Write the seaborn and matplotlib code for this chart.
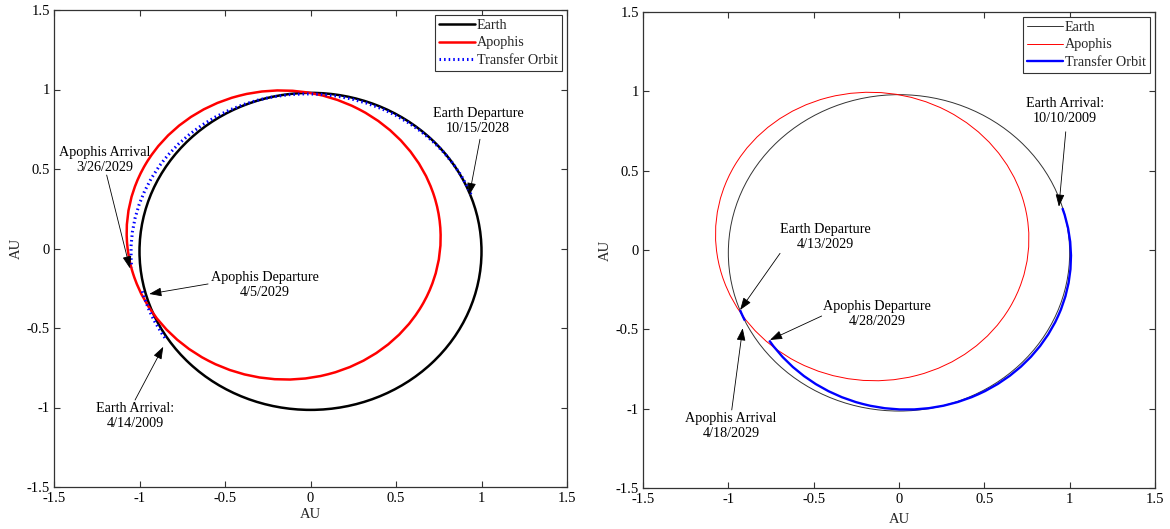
import matplotlib
matplotlib.use("Agg")
import matplotlib.pyplot as plt
from matplotlib.patches import Ellipse, Arc
from matplotlib.lines import Line2D
import seaborn as sns

# ---------------- data ----------------
ticks = [-1.5, -1.0, -0.5, 0.0, 0.5, 1.0, 1.5]
tick_labels = ["-1.5", "-1", "-0.5", "0", "0.5", "1", "1.5"]

series_names = ["Earth", "Apophis", "Transfer Orbit"]

# orbit ellipses: center x, center y, width, height, rotation (deg)
earth_orbit = [0.0, -0.018, 2.0, 1.994, 0.0]
apophis_orbit = [-0.157, 0.085, 1.844, 1.81, 151.0]

# transfer arcs: center x, center y, width, height, theta1, theta2
left_transfer_arcs = [
    [-0.02, -0.025, 2.06, 1.995, 20.9, 185.3],
    [0.0, 0.0, 2.04, 2.04, 195.3, 213.9],
]
right_transfer_arcs = [
    [0.0, -0.015, 2.0, 2.0, 201.3, 205.5],
    [0.045, -0.043, 1.925, 1.925, 213.2, 378.6],
]

# annotations: label, text position, arrow start, arrow tip
left_labels = ["Apophis Arrival\n3/26/2029", "Earth Departure\n10/15/2028",
               "Apophis Departure\n4/5/2029", "Earth Arrival:\n4/14/2009"]
left_text_xy = [(-1.202, 0.557), (0.980, 0.802), (-0.266, -0.230), (-1.026, -1.053)]
left_arrow_from = [(-1.192, 0.462), (0.991, 0.687), (-0.599, -0.223), (-1.026, -0.953)]
left_arrow_to = [(-1.056, -0.125), (0.929, 0.336), (-0.943, -0.286), (-0.861, -0.618)]

right_labels = ["Earth Arrival:\n10/10/2009", "Earth Departure\n4/13/2029",
                "Apophis Departure\n4/28/2029", "Apophis Arrival\n4/18/2029"]
right_text_xy = [(0.972, 0.876), (-0.434, 0.082), (-0.129, -0.403), (-0.984, -1.109)]
right_arrow_from = [(0.977, 0.745), (-0.697, -0.021), (-0.453, -0.416), (-0.980, -1.008)]
right_arrow_to = [(0.937, 0.273), (-0.931, -0.378), (-0.756, -0.567), (-0.916, -0.493)]

# ---------------- style ----------------
sns.set_theme(style="ticks", rc={
    "xtick.direction": "in", "ytick.direction": "in",
    "xtick.top": True, "ytick.right": True,
    "xtick.major.size": 4, "ytick.major.size": 4,
    "xtick.major.width": 0.8, "ytick.major.width": 0.8,
    "axes.edgecolor": "#333333", "axes.linewidth": 0.9,
    "xtick.color": "#333333", "ytick.color": "#333333",
    "xtick.labelcolor": "black", "ytick.labelcolor": "black",
})
plt.rcParams["font.family"] = ["Liberation Serif", "DejaVu Serif"]
plt.rcParams["font.size"] = 10

fig = plt.figure(figsize=(11.7, 5.29), dpi=100)
W, H = 1170, 529
ax1 = fig.add_axes([54 / W, 1 - 487 / H, (567 - 54) / W, (487 - 10) / H])
ax2 = fig.add_axes([643 / W, 1 - 488 / H, (1155 - 643) / W, (488 - 12) / H])

styles = {
    ax1: dict(earth=dict(color="black", lw=1.8),
              apophis=dict(color="#ff0000", lw=1.8),
              transfer=dict(color="#0000ff", lw=2.2, linestyle=(0, (0.5, 1.0)))),
    ax2: dict(earth=dict(color="#333333", lw=0.7),
              apophis=dict(color="#ff0000", lw=0.7),
              transfer=dict(color="#0000ff", lw=1.7, linestyle="-")),
}

panels = [
    (ax1, left_transfer_arcs, left_labels, left_text_xy, left_arrow_from, left_arrow_to, 2),
    (ax2, right_transfer_arcs, right_labels, right_text_xy, right_arrow_from, right_arrow_to, 5),
]

for ax, arcs, labels, txy, afrom, ato, xlpad in panels:
    st = styles[ax]
    ex, ey, ew, eh, ea = earth_orbit
    ax.add_patch(Ellipse((ex, ey), ew, eh, angle=ea, fill=False, **st["earth"], zorder=2))
    px, py, pw, ph, pa = apophis_orbit
    ax.add_patch(Ellipse((px, py), pw, ph, angle=pa, fill=False, **st["apophis"], zorder=2))
    for cx, cy, w, h, t1, t2 in arcs:
        ax.add_patch(Arc((cx, cy), w, h, theta1=t1, theta2=t2, **st["transfer"], zorder=3))

    for lab, (tx, ty), (fx, fy), (hx, hy) in zip(labels, txy, afrom, ato):
        ax.text(tx, ty, lab, ha="center", va="center", fontsize=10.2, color="black",
                linespacing=1.25, zorder=5)
        ax.annotate("", xy=(hx, hy), xytext=(fx, fy),
                    arrowprops=dict(arrowstyle="-|>,head_length=0.75,head_width=0.27",
                                    color="black", lw=0.6, shrinkA=0, shrinkB=0),
                    zorder=5)

    ax.set_xlim(-1.5, 1.5)
    ax.set_ylim(-1.5, 1.5)
    ax.set_xticks(ticks)
    ax.set_xticklabels(tick_labels, fontsize=10.5)
    ax.set_yticks(ticks)
    ax.set_yticklabels(tick_labels, fontsize=10.5)
    ax.tick_params(axis="x", pad=3.5)
    ax.tick_params(axis="y", pad=3)
    ax.set_xlabel("AU", fontsize=10.5, labelpad=xlpad)
    ax.set_ylabel("AU", fontsize=10.5, labelpad=3)

    handles = [Line2D([], [], **st["earth"]),
               Line2D([], [], **st["apophis"]),
               Line2D([], [], **st["transfer"])]
    leg = ax.legend(handles, series_names, loc="upper right", fontsize=10.2,
                    frameon=True, fancybox=False, framealpha=1, edgecolor="#333333",
                    handlelength=2.5, handletextpad=0.15, labelspacing=0.3,
                    borderpad=0.3, borderaxespad=0.35)
    leg.get_frame().set_linewidth(0.8)

fig.savefig("out.png", dpi=100)
